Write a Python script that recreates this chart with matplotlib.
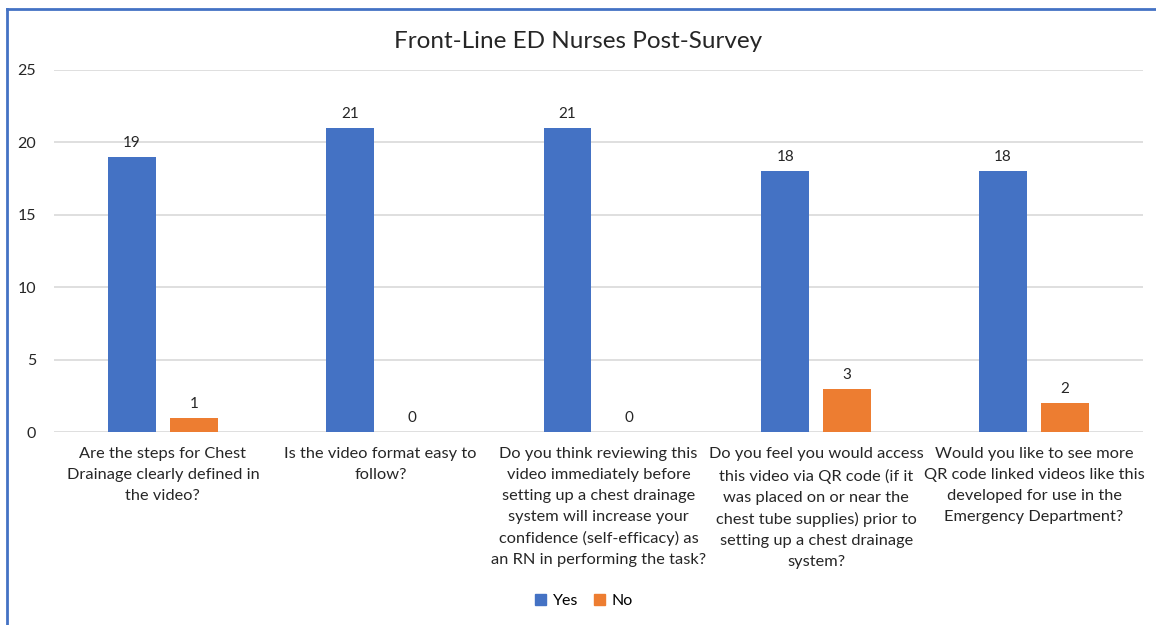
import matplotlib.pyplot as plt
import numpy as np
from matplotlib.lines import Line2D
from matplotlib.patches import Patch

plt.rcParams["font.family"] = ["Lato", "DejaVu Sans"]

# Survey data
questions = [
    "Are the steps for Chest\nDrainage clearly defined in\nthe video?",
    "Is the video format easy to\nfollow?",
    "Do you think reviewing this\nvideo immediately before\nsetting up a chest drainage\nsystem will increase your\nconfidence (self-efficacy) as\nan RN in performing the task?",
    "Do you feel you would access\nthis video via QR code (if it\nwas placed on or near the\nchest tube supplies) prior to\nsetting up a chest drainage\nsystem?",
    "Would you like to see more\nQR code linked videos like this\ndeveloped for use in the\nEmergency Department?",
]
yes_counts = [19, 21, 21, 18, 18]
no_counts = [1, 0, 0, 3, 2]

blue = "#4472C4"
orange = "#ED7D31"

fig = plt.figure(figsize=(11.56, 6.25), dpi=100)
ax = fig.add_axes([0.0467, 0.3088, 0.942, 0.5792])

x = np.arange(len(questions))
w = 0.22
off = 0.142
yes_bars = ax.bar(x - off, yes_counts, w, color=blue)
no_bars = ax.bar(x + off, no_counts, w, color=orange)

for bars in (yes_bars, no_bars):
    for b in bars:
        ax.annotate(
            str(int(b.get_height())),
            (b.get_x() + b.get_width() / 2, b.get_height()),
            xytext=(0, 5),
            textcoords="offset points",
            ha="center",
            va="bottom",
            fontsize=11,
            color="#262626",
        )

ax.set_xlim(-0.5, len(questions) - 0.5)
ax.set_ylim(0, 25)
ax.set_yticks([0, 5, 10, 15, 20, 25])
ax.set_xticks(x)
ax.set_xticklabels(questions, fontsize=11.8, linespacing=1.62, color="#262626")
ax.tick_params(axis="y", labelsize=11.5, labelcolor="#262626", length=0, pad=13)
ax.tick_params(axis="x", length=0, pad=11)
ax.grid(axis="y", color="#D9D9D9", linewidth=1.2)
ax.set_axisbelow(True)
for s in ax.spines.values():
    s.set_visible(False)

fig.text(0.5, 0.933, "Front-Line ED Nurses Post-Survey", ha="center", va="center",
         fontsize=17.5, color="#262626")

fig.legend(
    handles=[Patch(color=blue, label="Yes"), Patch(color=orange, label="No")],
    loc="center",
    bbox_to_anchor=(0.505, 0.038),
    ncol=2,
    frameon=False,
    fontsize=11.5,
    handlelength=0.7,
    handleheight=0.7,
    handletextpad=0.4,
    columnspacing=1.0,
)

# chart border (top and left edge)
fig.add_artist(Line2D([0.006, 1.0], [0.986, 0.986], color="#4472C4", linewidth=2))
fig.add_artist(Line2D([0.006, 0.006], [0.0, 0.986], color="#4472C4", linewidth=2))

fig.savefig("out.png", dpi=100)
